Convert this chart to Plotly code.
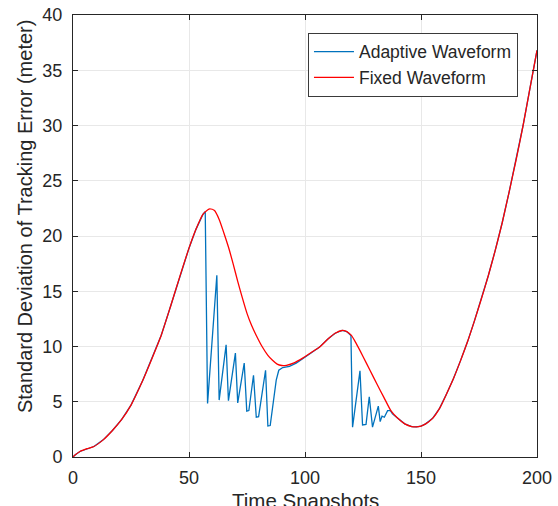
import plotly.graph_objects as go

# ---- data ----
fixed_t = [0, 1, 3, 6, 9, 13, 17, 21, 25, 30, 34, 38, 42, 46, 50, 53, 56, 58, 59, 61,
           63, 65, 67, 69, 71, 73, 75, 77, 79, 81.5, 84, 86, 88, 90, 92, 95, 99, 103,
           106, 110, 113, 116, 118, 120, 122, 125, 128, 131, 134, 137, 140, 143, 146,
           148, 150, 152, 155, 158, 161, 164, 167, 170, 173, 176, 179, 182, 185, 188,
           191, 194, 197, 200]
fixed_err = [0.0, 0.2, 0.5, 0.75, 0.95, 1.55, 2.4, 3.4, 4.7, 6.9, 8.9, 11.0, 13.6, 16.3,
             18.9, 20.6, 21.95, 22.35, 22.45, 22.3, 21.5, 20.3, 19.0, 17.5, 15.9, 14.4,
             13.0, 11.9, 11.0, 10.0, 9.2, 8.75, 8.4, 8.28, 8.3, 8.5, 8.95, 9.5, 9.9,
             10.7, 11.2, 11.45, 11.35, 11.0, 10.3, 9.1, 7.85, 6.6, 5.4, 4.2, 3.5, 3.0,
             2.75, 2.72, 2.8, 3.0, 3.5, 4.4, 5.7, 7.1, 8.7, 10.4, 12.3, 14.3, 16.4,
             18.7, 21.2, 24.0, 26.9, 30.0, 33.4, 36.8]

# segments where the adaptive waveform departs from the fixed one
adapt_seg1_t = [57, 58, 62, 63, 66, 67, 70, 71, 73.8, 74.9, 75.8, 77.8, 79, 80, 83, 84,
                85, 86.1, 87.6, 88.7, 90.4, 93.3, 96.2, 99.8]
adapt_seg1_err = [22.2, 4.85, 16.45, 5.15, 10.15, 5.1, 9.4, 4.9, 8.5, 4.15, 4.2, 7.4,
                  3.6, 3.65, 7.85, 2.8, 2.85, 4.55, 6.95, 7.85, 8.1, 8.2, 8.5, 9.0]
adapt_seg2_t = [119.8, 120.5, 123.7, 124.8, 126.3, 127.7, 129.1, 131.6, 132.4, 133.2,
                134.2, 135.6, 136.8, 137.7]
adapt_seg2_err = [11.0, 2.7, 7.8, 2.9, 2.95, 5.45, 2.7, 4.6, 3.2, 3.7, 3.6, 4.2, 4.2, 3.9]

x_ticks = [0, 50, 100, 150, 200]
y_ticks = [0, 5, 10, 15, 20, 25, 30, 35, 40]

# build adaptive curve: identical to fixed outside the two segments
adapt_t, adapt_err = [], []
for t, e in zip(fixed_t, fixed_err):
    if t < adapt_seg1_t[0]:
        adapt_t.append(t); adapt_err.append(e)
adapt_t += adapt_seg1_t; adapt_err += adapt_seg1_err
for t, e in zip(fixed_t, fixed_err):
    if adapt_seg1_t[-1] < t < adapt_seg2_t[0]:
        adapt_t.append(t); adapt_err.append(e)
adapt_t += adapt_seg2_t; adapt_err += adapt_seg2_err
for t, e in zip(fixed_t, fixed_err):
    if t > adapt_seg2_t[-1]:
        adapt_t.append(t); adapt_err.append(e)

BLUE = "#0072BD"
RED = "#FF0000"
TXT = "#262626"
FONT = "Liberation Sans, Arial, sans-serif"

fig = go.Figure()
fig.add_trace(go.Scatter(x=adapt_t, y=adapt_err, mode="lines", name="Adaptive Waveform",
                         line=dict(color=BLUE, width=1.3), legendrank=1))
fig.add_trace(go.Scatter(x=fixed_t, y=fixed_err, mode="lines", name="Fixed Waveform",
                         line=dict(color=RED, width=1.3, shape="spline", smoothing=0.6),
                         legendrank=2))

axis_common = dict(
    showline=True, linecolor=TXT, linewidth=1, mirror="ticks",
    ticks="inside", ticklen=5, tickcolor=TXT, tickwidth=1,
    showgrid=True, gridcolor="#e8e8e8", gridwidth=1, zeroline=False,
    tickfont=dict(family=FONT, size=18, color=TXT),
    automargin=False,
)

fig.update_xaxes(range=[0, 200], tickvals=x_ticks, ticklabelstandoff=4, **axis_common)
fig.update_yaxes(range=[0, 40], tickvals=y_ticks, ticklabelstandoff=6, **axis_common)

# axis titles as annotations for exact placement
fig.add_annotation(text="Time Snapshots", xref="paper", yref="paper", x=0.5, y=0,
                   xanchor="center", yanchor="top", yshift=-30, showarrow=False,
                   font=dict(family=FONT, size=20.5, color=TXT))
fig.add_annotation(text="Standard Deviation of Tracking Error (meter)", textangle=-90,
                   xref="paper", yref="paper", x=0, y=0.545, xanchor="center",
                   yanchor="middle", xshift=-48, showarrow=False,
                   font=dict(family=FONT, size=20, color=TXT))

fig.update_layout(
    width=558, height=506,
    margin=dict(l=73, r=21, t=15, b=49),
    paper_bgcolor="white", plot_bgcolor="white",
    showlegend=True,
    legend=dict(x=0.959, y=0.96, xanchor="right", yanchor="top",
                bgcolor="white", bordercolor="#3a3a3a", borderwidth=1,
                font=dict(family=FONT, size=17.5, color=TXT),
                tracegroupgap=0, itemwidth=40),
)

fig.write_html("out.html", config={"displayModeBar": False},
               post_script="document.body.style.margin='0';document.body.style.padding='0';")
